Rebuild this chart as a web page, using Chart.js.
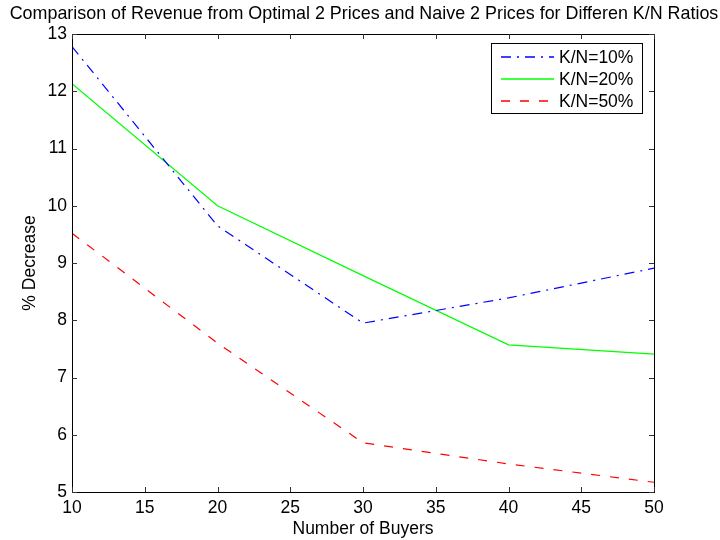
<!DOCTYPE html>
<html>
<head>
<meta charset="utf-8">
<script src="https://cdn.jsdelivr.net/npm/chart.js@4/dist/chart.umd.min.js"></script>
<style>
  html, body { margin: 0; padding: 0; background: #fff; }
  #wrap { width: 720px; height: 540px; }
</style>
</head>
<body>
<div id="wrap"><canvas id="revChart" width="720" height="540"></canvas></div>
<script>
// Number of buyers and % decrease for each K/N ratio
const buyers = [10, 20, 30, 40, 50];
const ratio10 = [12.78, 9.65, 7.95, 8.39, 8.91];
const ratio20 = [12.13, 10.0, 8.78, 7.57, 7.41];
const ratio50 = [9.52, 7.60, 5.86, 5.49, 5.17];
const seriesNames = ["K/N=10%", "K/N=20%", "K/N=50%"];
const xTicks = [10, 15, 20, 25, 30, 35, 40, 45, 50];
const yTicks = [5, 6, 7, 8, 9, 10, 11, 12, 13];

const FONT = "'Liberation Sans', Arial, Helvetica, sans-serif";
const FS = 17.5;

const toPoints = (vals) => buyers.map((b, i) => ({ x: b, y: vals[i] }));

// Axes box with inward ticks on all four sides, plus title and legend
const boxPlugin = {
    id: "matlabBox",
    afterDatasetsDraw(chart) {
        const { ctx, chartArea: a, scales } = chart;
        ctx.save();
        ctx.strokeStyle = "#000";
        ctx.lineWidth = 1;
        ctx.strokeRect(a.left + 0.5, a.top + 0.5, a.right - a.left, a.bottom - a.top);
        ctx.strokeStyle = "#333";
        const len = 5;
        ctx.beginPath();
        xTicks.forEach(v => {
            const px = Math.round(scales.x.getPixelForValue(v)) + 0.5;
            ctx.moveTo(px, a.bottom); ctx.lineTo(px, a.bottom - len);
            ctx.moveTo(px, a.top); ctx.lineTo(px, a.top + len);
        });
        yTicks.forEach(v => {
            const py = Math.round(scales.y.getPixelForValue(v)) + 0.5;
            ctx.moveTo(a.left, py); ctx.lineTo(a.left + len, py);
            ctx.moveTo(a.right, py); ctx.lineTo(a.right - len, py);
        });
        ctx.stroke();
        ctx.restore();
    },
    afterDraw(chart) {
        const { ctx } = chart;
        ctx.save();
        // title
        ctx.fillStyle = "#000";
        ctx.font = "17.9px " + FONT;
        ctx.textAlign = "center";
        ctx.textBaseline = "alphabetic";
        ctx.fillText("Comparison of Revenue from Optimal 2 Prices and Naive 2 Prices for Differen K/N Ratios", 364, 19);

        // legend box
        const lx = 491, ly = 43, lw = 151, lh = 70;
        ctx.fillStyle = "#fff";
        ctx.fillRect(lx, ly, lw, lh);
        ctx.strokeStyle = "#000";
        ctx.lineWidth = 1;
        ctx.strokeRect(lx + 0.5, ly + 0.5, lw, lh);
        chart.data.datasets.forEach((ds, i) => {
            const y = 57 + i * 22;
            ctx.beginPath();
            ctx.strokeStyle = ds.borderColor;
            ctx.lineWidth = 1.5;
            ctx.setLineDash(ds.borderDash || []);
            ctx.moveTo(501, y);
            ctx.lineTo(554, y);
            ctx.stroke();
            ctx.setLineDash([]);
            ctx.fillStyle = "#000";
            ctx.textAlign = "left";
            ctx.textBaseline = "middle";
            ctx.font = FS + "px " + FONT;
            ctx.fillText(ds.label, 559, y + 1);
        });
        ctx.restore();
    }
};

new Chart(document.getElementById("revChart"), {
    type: "line",
    data: {
        datasets: [
            { label: seriesNames[0], data: toPoints(ratio10), borderColor: "#0000ff", borderDash: [10, 6, 2, 6] },
            { label: seriesNames[1], data: toPoints(ratio20), borderColor: "#00ff00" },
            { label: seriesNames[2], data: toPoints(ratio50), borderColor: "#ff0000", borderDash: [9, 10] }
        ].map(ds => Object.assign(ds, { borderWidth: 1.2, pointRadius: 0, tension: 0, fill: false }))
    },
    options: {
        responsive: false,
        animation: false,
        layout: { padding: { top: 34, right: 66, left: 0, bottom: 0 } },
        plugins: { legend: { display: false }, title: { display: false }, tooltip: { enabled: false } },
        scales: {
            x: {
                type: "linear",
                min: 10, max: 50,
                afterFit: s => { s.height = 48; },
                afterBuildTicks: s => { s.ticks = xTicks.map(v => ({ value: v })); },
                grid: { display: false, drawTicks: false },
                border: { display: false },
                ticks: { padding: 6, color: "#000", font: { family: FONT, size: FS } },
                title: { display: true, text: "Number of Buyers", color: "#000", padding: { bottom: 0 }, font: { family: FONT, size: FS } }
            },
            y: {
                min: 5, max: 13,
                afterFit: s => { s.width = 72; },
                afterBuildTicks: s => { s.ticks = yTicks.map(v => ({ value: v })); },
                grid: { display: false, drawTicks: false },
                border: { display: false },
                ticks: { padding: 5, color: "#000", font: { family: FONT, size: FS } },
                title: { display: true, text: "% Decrease", color: "#000", padding: { top: 20 }, font: { family: FONT, size: FS } }
            }
        }
    },
    plugins: [boxPlugin]
});
</script>
</body>
</html>
